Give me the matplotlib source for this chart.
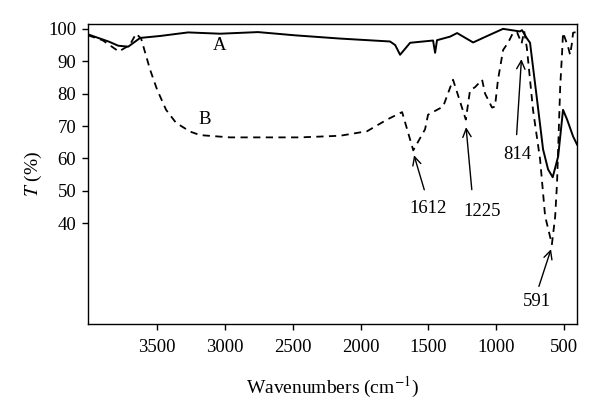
import matplotlib

matplotlib.use("Agg")
import matplotlib.pyplot as plt

# spectrum A (solid)
wn_a = [4007, 3918, 3850, 3785, 3711, 3623, 3476, 3270, 3034, 2755, 2482, 2151,
        1783, 1745, 1709, 1635, 1466, 1451, 1437, 1341, 1289, 1171, 1083, 951,
        826, 811, 774, 752, 700, 656, 619, 585, 545, 509, 479, 435, 406]
t_a = [98.3, 97.0, 96.0, 94.8, 94.5, 97.2, 97.8, 98.9, 98.5, 99.0, 98.0, 97.0,
       96.1, 95.0, 92.0, 95.7, 96.4, 92.6, 96.5, 97.6, 98.7, 95.8, 97.5, 100.0,
       99.2, 99.6, 97.0, 95.7, 78.0, 62.8, 56.6, 54.2, 60.6, 75.0, 72.0, 66.8, 64.3]

# spectrum B (dashed)
wn_b = [4007, 3900, 3780, 3700, 3653, 3616, 3550, 3498, 3432, 3359, 3256, 3182,
        2961, 2446, 2151, 1952, 1805, 1694, 1612, 1525, 1503, 1437, 1392, 1319,
        1225, 1194, 1157, 1105, 1083, 1032, 1010, 988, 950, 914, 877, 848, 814,
        795, 775, 730, 678, 641, 591, 567, 553, 545, 530, 516, 509, 472, 457,
        443, 435, 414]
t_b = [98.0, 96.5, 93.0, 95.0, 98.5, 97.0, 87.4, 81.2, 75.0, 71.0, 68.3, 67.2,
       66.5, 66.5, 67.0, 68.4, 72.0, 74.3, 62.5, 69.0, 73.5, 75.0, 76.0, 84.3,
       72.0, 81.0, 82.0, 84.3, 80.0, 75.7, 76.0, 84.3, 93.5, 95.7, 98.8, 99.0, 95.5,
       99.3, 94.0, 75.0, 59.7, 42.2, 33.5, 42.0, 52.6, 62.8, 82.0, 92.6, 98.8, 94.5, 92.0,
       95.7, 98.8, 99.0]

# peak labels: text, arrow tip (wn, T), arrow tail (wn, T)
peaks = ["1612", "1225", "814", "591"]
tips = [(1612, 61.8), (1225, 70.5), (814, 91.5), (591, 32.8)]
tails = [(1525, 49.5), (1179, 49.5), (852, 66.5), (693, 19.7)]
label_pos = [(1503, 44.6), (1105, 43.7), (847, 61.2), (700, 15.7)]

plt.rcParams["font.family"] = ["Liberation Serif", "DejaVu Serif"]
plt.rcParams["mathtext.fontset"] = "stix"

fig = plt.figure(figsize=(6, 4.08), dpi=100)
ax = fig.add_axes([0.1467, 0.2059, 0.815, 0.7353])

ax.plot(wn_a, t_a, color="black", linewidth=1.4)
ax.plot(wn_b, t_b, color="black", linewidth=1.3, linestyle=(0, (4, 3)))

ax.text(3035, 95, "A", fontsize=13.5, ha="center", va="center")
ax.text(3150, 72, "B", fontsize=13.5, ha="center", va="center")

for text, tip, tail, pos in zip(peaks, tips, tails, label_pos):
    ax.annotate("", xy=tip, xytext=tail,
                arrowprops=dict(arrowstyle="->", color="black", lw=1.0,
                                mutation_scale=15))
    ax.text(pos[0], pos[1], text, fontsize=13.5, ha="center", va="center")

ax.set_xlim(4007, 406)
ax.set_ylim(8.9, 101.5)
ax.set_xticks([3500, 3000, 2500, 2000, 1500, 1000, 500])
ax.set_yticks([40, 50, 60, 70, 80, 90, 100])
ax.tick_params(direction="out", labelsize=13.5, length=4.5, width=1, pad=4)
ax.tick_params(axis="x", pad=6)
for side in ax.spines.values():
    side.set_linewidth(1.0)

ax.set_xlabel("Wavenumbers (cm$^{-1}$)", fontsize=14, labelpad=14)
ax.set_ylabel("$T$ (%)", fontsize=14, labelpad=3)

fig.savefig("out.png", dpi=100)
